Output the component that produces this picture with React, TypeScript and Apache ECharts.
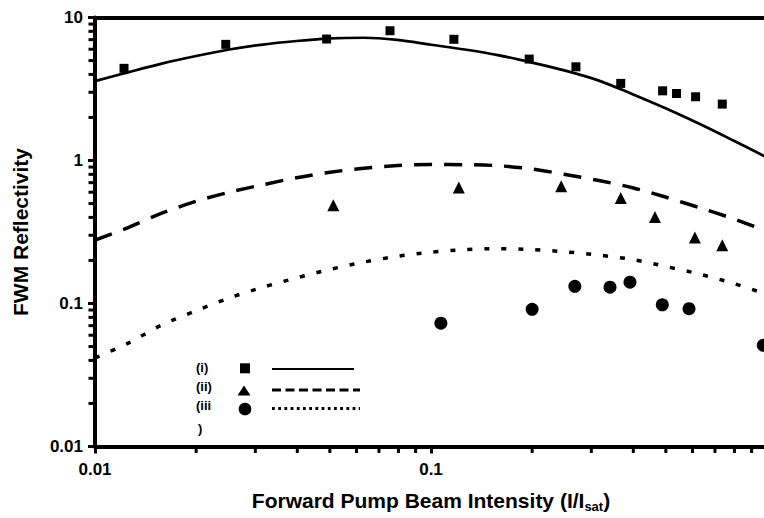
import React, { useEffect, useRef } from "react";
import * as echarts from "echarts";

// Minor tick positions (log axes)
const xMinorTicks = [0.02, 0.03, 0.04, 0.05, 0.06, 0.07, 0.08, 0.09, 0.2, 0.3, 0.4, 0.5, 0.6, 0.7, 0.8, 0.9];
const yMinorTicks = [
  0.02, 0.03, 0.04, 0.05, 0.06, 0.07, 0.08, 0.09,
  0.2, 0.3, 0.4, 0.5, 0.6, 0.7, 0.8, 0.9,
  2, 3, 4, 5, 6, 7, 8, 9,
];

// (i) squares
const squareX = [0.0122, 0.0245, 0.0489, 0.0755, 0.117, 0.196, 0.27, 0.367, 0.489, 0.538, 0.613, 0.736];
const squareY = [4.41, 6.49, 7.07, 8.08, 7.04, 5.12, 4.52, 3.46, 3.07, 2.94, 2.79, 2.48];

// (ii) triangles
const triangleX = [0.0512, 0.121, 0.244, 0.367, 0.464, 0.61, 0.736];
const triangleY = [0.486, 0.647, 0.661, 0.547, 0.403, 0.289, 0.255];

// (iii) circles
const circleX = [0.107, 0.2, 0.268, 0.341, 0.391, 0.488, 0.586, 0.975];
const circleY = [0.0729, 0.091, 0.132, 0.13, 0.141, 0.098, 0.092, 0.051];

// fitted curves at these intensities
const fitX = [0.01, 0.0126, 0.0158, 0.02, 0.0251, 0.0316, 0.0398, 0.0501, 0.0631, 0.0794, 0.1, 0.126, 0.158, 0.2, 0.251, 0.316, 0.398, 0.501, 0.631, 0.794, 1.0];
const fitIY = [3.59, 4.15, 4.76, 5.38, 5.97, 6.47, 6.85, 7.15, 7.22, 6.97, 6.45, 5.97, 5.46, 4.84, 4.25, 3.62, 2.91, 2.31, 1.8, 1.38, 1.05];
const fitIIY = [0.277, 0.341, 0.428, 0.519, 0.6, 0.677, 0.758, 0.828, 0.883, 0.923, 0.937, 0.935, 0.92, 0.872, 0.798, 0.724, 0.645, 0.553, 0.467, 0.391, 0.32];
const fitIIIY = [0.0416, 0.053, 0.0708, 0.089, 0.1094, 0.13, 0.1511, 0.1733, 0.195, 0.2137, 0.2287, 0.2381, 0.242, 0.2384, 0.2298, 0.2179, 0.203, 0.1813, 0.1604, 0.1383, 0.1158];

const legendLabels = ["(i)", "(ii)", "(iii", ")"];

const FONT = "'Liberation Sans', Arial, Helvetica, sans-serif";

function pairs(xs: number[], ys: number[]) {
  return xs.map((x, i) => [x, ys[i]]);
}

export default function App() {
  const ref = useRef<HTMLDivElement>(null);

  useEffect(() => {
    if (!ref.current) return;
    const chart = echarts.init(ref.current, null, { renderer: "svg" });

    const labelStyle = {
      color: "#000",
      fontSize: 17,
      fontWeight: "bold" as const,
      fontFamily: FONT,
    };
    const legendFont = `bold 13px ${FONT}`;

    const legendGraphics: any[] = [
      { type: "text", x: 196, y: 367, style: { text: legendLabels[0], fill: "#000", font: legendFont, textVerticalAlign: "middle" } },
      { type: "text", x: 196, y: 386, style: { text: legendLabels[1], fill: "#000", font: legendFont, textVerticalAlign: "middle" } },
      { type: "text", x: 196, y: 405, style: { text: legendLabels[2], fill: "#000", font: legendFont, textVerticalAlign: "middle" } },
      { type: "text", x: 198, y: 428, style: { text: legendLabels[3], fill: "#000", font: legendFont, textVerticalAlign: "middle" } },
      { type: "rect", shape: { x: 240, y: 363.3, width: 10, height: 10 }, style: { fill: "#000" } },
      { type: "polygon", shape: { points: [[244, 385.5], [250.5, 395.5], [237.5, 395.5]] }, style: { fill: "#000" } },
      { type: "circle", shape: { cx: 245, cy: 409, r: 6.3 }, style: { fill: "#000" } },
      { type: "line", shape: { x1: 272, y1: 369, x2: 354, y2: 369 }, style: { stroke: "#000", lineWidth: 2.2 } },
      { type: "line", shape: { x1: 272, y1: 390, x2: 360, y2: 390 }, style: { stroke: "#000", lineWidth: 3, lineDash: [9, 4.5] } },
      { type: "line", shape: { x1: 272, y1: 408.5, x2: 360, y2: 408.5 }, style: { stroke: "#000", lineWidth: 3, lineDash: [2.8, 3.4] } },
    ];

    const option: any = {
      animation: false,
      backgroundColor: "#fff",
      grid: { left: 95, right: 13, top: 17.5, bottom: 71.5, containLabel: false },
      xAxis: [
        {
          type: "log",
          logBase: 10,
          min: 0.01,
          max: 1,
          position: "bottom",
          axisLine: { show: true, onZero: false, lineStyle: { color: "#000", width: 4 } },
          axisTick: { show: true, length: 7, lineStyle: { color: "#000", width: 3 } },
          axisLabel: { ...labelStyle, margin: 14, showMaxLabel: false },
          splitLine: { show: false },
          name: "Forward Pump Beam Intensity (I/I{sub|sat})",
          nameLocation: "middle",
          nameGap: 42,
          nameTextStyle: {
            color: "#000",
            fontSize: 21,
            fontWeight: "bold",
            fontFamily: FONT,
            lineHeight: 24,
            rich: {
              sub: {
                color: "#000",
                fontSize: 13,
                fontWeight: "bold",
                fontFamily: FONT,
                lineHeight: 6,
                verticalAlign: "bottom",
              },
            },
          },
        },
        {
          type: "log",
          logBase: 10,
          min: 0.01,
          max: 1,
          position: "top",
          axisLine: { show: true, onZero: false, lineStyle: { color: "#000", width: 4 } },
          axisTick: { show: false },
          axisLabel: { show: false },
          splitLine: { show: false },
        },
      ],
      yAxis: {
        type: "log",
        logBase: 10,
        min: 0.01,
        max: 10,
        axisLine: { show: true, onZero: false, lineStyle: { color: "#000", width: 4 } },
        axisTick: { show: true, length: 7, lineStyle: { color: "#000", width: 3 } },
        axisLabel: { ...labelStyle, margin: 12 },
        splitLine: { show: false },
        name: "FWM Reflectivity",
        nameLocation: "middle",
        nameRotate: 90,
        nameGap: 64,
        nameTextStyle: {
          color: "#000",
          fontSize: 21,
          fontWeight: "bold",
          fontFamily: FONT,
        },
      },
      series: [
        {
          name: "(i) fit",
          type: "line",
          data: pairs(fitX, fitIY),
          symbol: "none",
          smooth: 0.3,
          lineStyle: { color: "#000", width: 2.7, type: "solid" },
          z: 3,
        },
        {
          name: "(ii) fit",
          type: "line",
          data: pairs(fitX, fitIIY),
          symbol: "none",
          smooth: 0.3,
          lineStyle: { color: "#000", width: 3.5, type: [18, 12] },
          z: 3,
        },
        {
          name: "(iii) fit",
          type: "line",
          data: pairs(fitX, fitIIIY),
          symbol: "none",
          smooth: 0.3,
          lineStyle: { color: "#000", width: 3.5, type: [5, 12] },
          z: 3,
        },
        {
          name: "(i)",
          type: "scatter",
          data: pairs(squareX, squareY),
          symbol: "rect",
          symbolSize: 9,
          itemStyle: { color: "#000", opacity: 1 },
          z: 4,
        },
        {
          name: "(ii)",
          type: "scatter",
          data: pairs(triangleX, triangleY),
          symbol: "triangle",
          symbolSize: 12,
          itemStyle: { color: "#000", opacity: 1 },
          z: 4,
        },
        {
          name: "(iii)",
          type: "scatter",
          data: pairs(circleX, circleY),
          symbol: "circle",
          symbolSize: 13,
          itemStyle: { color: "#000", opacity: 1 },
          clip: false,
          z: 4,
        },
      ],
      graphic: legendGraphics,
    };

    chart.setOption(option);

    // minor ticks placed through the axes' own scales
    const x0 = chart.convertToPixel({ xAxisIndex: 0 }, 0.01) as number;
    const y0 = chart.convertToPixel({ yAxisIndex: 0 }, 0.01) as number;
    const tickGraphics: any[] = [];
    xMinorTicks.forEach((v) => {
      const px = chart.convertToPixel({ xAxisIndex: 0 }, v) as number;
      tickGraphics.push({
        type: "rect",
        z: 100,
        shape: { x: px - 1.5, y: y0, width: 3, height: 6.5 },
        style: { fill: "#000" },
      });
    });
    yMinorTicks.forEach((v) => {
      const py = chart.convertToPixel({ yAxisIndex: 0 }, v) as number;
      tickGraphics.push({
        type: "rect",
        z: 100,
        shape: { x: x0 - 6.5, y: py - 1.5, width: 6.5, height: 3 },
        style: { fill: "#000" },
      });
    });
    chart.setOption({ graphic: [...legendGraphics, ...tickGraphics] });

    return () => chart.dispose();
  }, []);

  return (
    <div
      style={{
        position: "fixed",
        left: 0,
        top: 0,
        width: 764,
        height: 518,
        overflow: "hidden",
        background: "#fff",
      }}
    >
      <div ref={ref} style={{ width: 780, height: 518 }} />
    </div>
  );
}
